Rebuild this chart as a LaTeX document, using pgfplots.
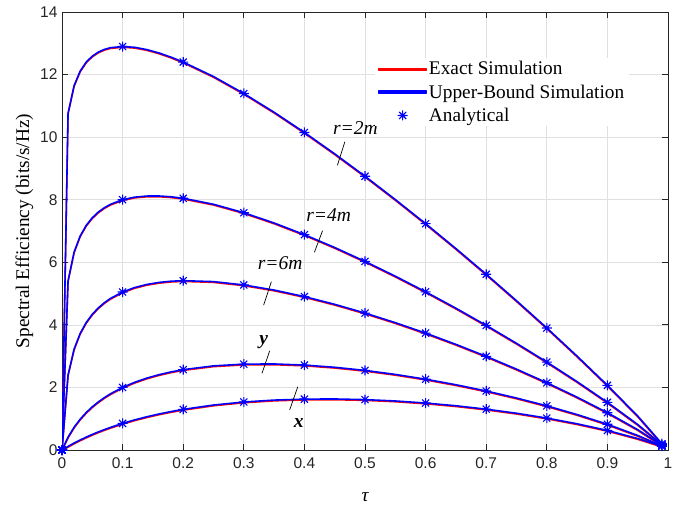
\documentclass[border=0pt]{standalone}
\usepackage{fontspec}
\setmainfont{Liberation Serif}
\setsansfont{Liberation Sans}
\usepackage{pgfplots}
\pgfplotsset{compat=1.18}
\usepackage{pgfplotstable}
\definecolor{axgray}{gray}{0.15}
\definecolor{gridgray}{gray}{0.88}

\pgfdeclareplotmark{mstar}{%
 \pgfpathmoveto{\pgfqpoint{-\pgfplotmarksize}{0pt}}\pgfpathlineto{\pgfqpoint{\pgfplotmarksize}{0pt}}%
 \pgfpathmoveto{\pgfqpoint{0pt}{-\pgfplotmarksize}}\pgfpathlineto{\pgfqpoint{0pt}{\pgfplotmarksize}}%
 \pgfpathmoveto{\pgfqpoint{-0.7071\pgfplotmarksize}{-0.7071\pgfplotmarksize}}\pgfpathlineto{\pgfqpoint{0.7071\pgfplotmarksize}{0.7071\pgfplotmarksize}}%
 \pgfpathmoveto{\pgfqpoint{-0.7071\pgfplotmarksize}{0.7071\pgfplotmarksize}}\pgfpathlineto{\pgfqpoint{0.7071\pgfplotmarksize}{-0.7071\pgfplotmarksize}}%
 \pgfusepathqstroke}

\pgfplotsset{
  redlegend/.style={legend image code/.code={\fill[red] (0bp,-0.8bp) rectangle (48bp,0.8bp);}},
  bluelegend/.style={legend image code/.code={\fill[blue] (0bp,-0.8bp) rectangle (48bp,0.8bp);}},
  starlegend/.style={legend image code/.code={\draw[mark repeat=2,mark phase=2,##1] plot coordinates {(0bp,0bp)(24bp,0bp)(48bp,0bp)};}},
}

% tau, r=2m, r=4m, r=6m, y, x
\pgfplotstableread{
t     A       B      C      D      E
0     0       0      0      0      0
0.01  10.763  5.405  2.396  0.411  0.115
0.02  11.648  6.328  3.226  0.728  0.222
0.03  12.111  6.840  3.726  0.984  0.320
0.04  12.399  7.180  4.075  1.198  0.412
0.05  12.590  7.423  4.338  1.380  0.498
0.06  12.719  7.606  4.543  1.537  0.578
0.07  12.805  7.745  4.709  1.675  0.652
0.08  12.859  7.853  4.845  1.796  0.722
0.10  12.897  8.000  5.050  2.000  0.850
0.12  12.871  8.082  5.193  2.164  0.963
0.14  12.798  8.117  5.292  2.298  1.062
0.16  12.691  8.119  5.356  2.407  1.151
0.18  12.556  8.093  5.395  2.496  1.229
0.20  12.400  8.046  5.412  2.568  1.298
0.25  11.937  7.854  5.382  2.689  1.437
0.30  11.395  7.584  5.276  2.744  1.534
0.35  10.795  7.256  5.112  2.750  1.595
0.40  10.149  6.883  4.903  2.714  1.626
0.45  9.466   6.472  4.656  2.644  1.631
0.50  8.750   6.028  4.377  2.544  1.610
0.55  8.005   5.555  4.070  2.416  1.567
0.60  7.234   5.056  3.736  2.263  1.501
0.65  6.438   4.532  3.376  2.086  1.414
0.70  5.617   3.983  2.993  1.886  1.305
0.75  4.771   3.410  2.584  1.661  1.175
0.80  3.900   2.811  2.150  1.411  1.020
0.85  3.000   2.184  1.688  1.133  0.838
0.90  2.067   1.523  1.192  0.822  0.625
0.95  1.087   0.815  0.650  0.465  0.366
0.99  0.20    0.17   0.15   0.13   0.12
}\curves

\pgfplotstableread{
t     A       B      C      D      E
0     0       0      0      0      0
0.10  12.897  8.000  5.050  2.000  0.850
0.20  12.400  8.046  5.412  2.568  1.298
0.30  11.395  7.584  5.276  2.744  1.534
0.40  10.149  6.883  4.903  2.714  1.626
0.50  8.750   6.028  4.377  2.544  1.610
0.60  7.234   5.056  3.736  2.263  1.501
0.70  5.617   3.983  2.993  1.886  1.305
0.80  3.900   2.811  2.150  1.411  1.020
0.90  2.067   1.523  1.192  0.822  0.625
0.99  0.20    0.17   0.15   0.13   0.12
}\marks

\begin{document}
\begin{tikzpicture}
\begin{axis}[
  name=ax,
  scale only axis,
  width=606bp, height=438bp,
  xmin=0, xmax=1, ymin=0, ymax=14,
  xtick={0,0.1,0.2,0.3,0.4,0.5,0.6,0.7,0.8,0.9,1},
  xticklabels={0,0.1,0.2,0.3,0.4,0.5,0.6,0.7,0.8,0.9,1},
  ytick={0,2,4,6,8,10,12,14},
  yticklabels={0,2,4,6,8,10,12,14},
  grid=major,
  major grid style={gridgray, line width=0.7bp},
  axis line style={axgray, line width=0.8bp},
  tick style={axgray, line width=0.8bp},
  major tick length=6bp,
  tick align=inside,
  /pgf/number format/assume math mode=true,
  ticklabel style={font=\fontsize{15.5bp}{18bp}\sffamily, text=axgray},
  yticklabel style={xshift=-1bp},
  xticklabel style={yshift=-4bp},
  xlabel={\itshape τ},
  ylabel={Spectral Efficiency (bits/s/Hz)},
  label style={font=\fontsize{19.3bp}{23bp}\selectfont},
  xlabel style={at={(axis description cs:0.5,-0.107)}, anchor=center},
  ylabel style={at={(axis description cs:-0.062,0.5)}, anchor=center},
  legend style={at={(rel axis cs:0.516,0.896)}, anchor=north west, draw=none, fill=white,
     font=\fontsize{19.3bp}{23bp}\selectfont, row sep=5.5bp,
     nodes={inner sep=1.5bp}},
  legend cell align=left,
  every axis plot/.append style={line join=round},
]
% Exact simulation (red), drawn just under the blue curves
\addplot[red, line width=1.5bp, yshift=-0.8bp, redlegend] table[x=t,y=A]{\curves};
\addlegendentry{Exact Simulation}
\addplot[blue, line width=1.6bp, bluelegend] table[x=t,y=A]{\curves};
\addlegendentry{Upper-Bound Simulation}
\addplot[blue, only marks, mark=mstar, mark size=5bp, mark options={line width=1.1bp}, starlegend] table[x=t,y=A]{\marks};
\addlegendentry{Analytical}

\addplot[red, line width=1.5bp, yshift=-0.8bp, forget plot] table[x=t,y=B]{\curves};
\addplot[red, line width=1.5bp, yshift=-0.8bp, forget plot] table[x=t,y=C]{\curves};
\addplot[red, line width=1.5bp, yshift=-0.8bp, forget plot] table[x=t,y=D]{\curves};
\addplot[red, line width=1.5bp, yshift=-0.8bp, forget plot] table[x=t,y=E]{\curves};
\addplot[blue, line width=1.6bp, forget plot] table[x=t,y=B]{\curves};
\addplot[blue, line width=1.6bp, forget plot] table[x=t,y=C]{\curves};
\addplot[blue, line width=1.6bp, forget plot] table[x=t,y=D]{\curves};
\addplot[blue, line width=1.6bp, forget plot] table[x=t,y=E]{\curves};
\addplot[blue, only marks, mark=mstar, mark size=5bp, mark options={line width=1.1bp}, forget plot] table[x=t,y=B]{\marks};
\addplot[blue, only marks, mark=mstar, mark size=5bp, mark options={line width=1.1bp}, forget plot] table[x=t,y=C]{\marks};
\addplot[blue, only marks, mark=mstar, mark size=5bp, mark options={line width=1.1bp}, forget plot] table[x=t,y=D]{\marks};
\addplot[blue, only marks, mark=mstar, mark size=5bp, mark options={line width=1.1bp}, forget plot] table[x=t,y=E]{\marks};

% annotations
\begin{scope}[every node/.style={font=\fontsize{19.5bp}{23bp}\selectfont}]
\node at (axis cs:0.484,10.29) {\itshape r=2m};
\draw[black, line width=0.7bp] (axis cs:0.4545,9.10) -- (axis cs:0.4667,9.85);
\node at (axis cs:0.44,7.51) {\itshape r=4m};
\draw[black, line width=0.7bp] (axis cs:0.4165,6.32) -- (axis cs:0.430,7.01);
\node at (axis cs:0.36,5.96) {\itshape r=6m};
\draw[black, line width=0.7bp] (axis cs:0.3327,4.63) -- (axis cs:0.3455,5.38);
\node at (axis cs:0.333,3.46) {\bfseries\itshape y};
\draw[black, line width=0.7bp] (axis cs:0.330,2.45) -- (axis cs:0.3427,3.17);
\node at (axis cs:0.3906,0.85) {\bfseries\itshape x};
\draw[black, line width=0.7bp] (axis cs:0.3757,1.28) -- (axis cs:0.389,2.02);
\end{scope}
\end{axis}
\pgfresetboundingbox
\path ([shift={(-62bp,-56bp)}]ax.south west) rectangle ([shift={(12bp,12bp)}]ax.north east);
\end{tikzpicture}
\end{document}
